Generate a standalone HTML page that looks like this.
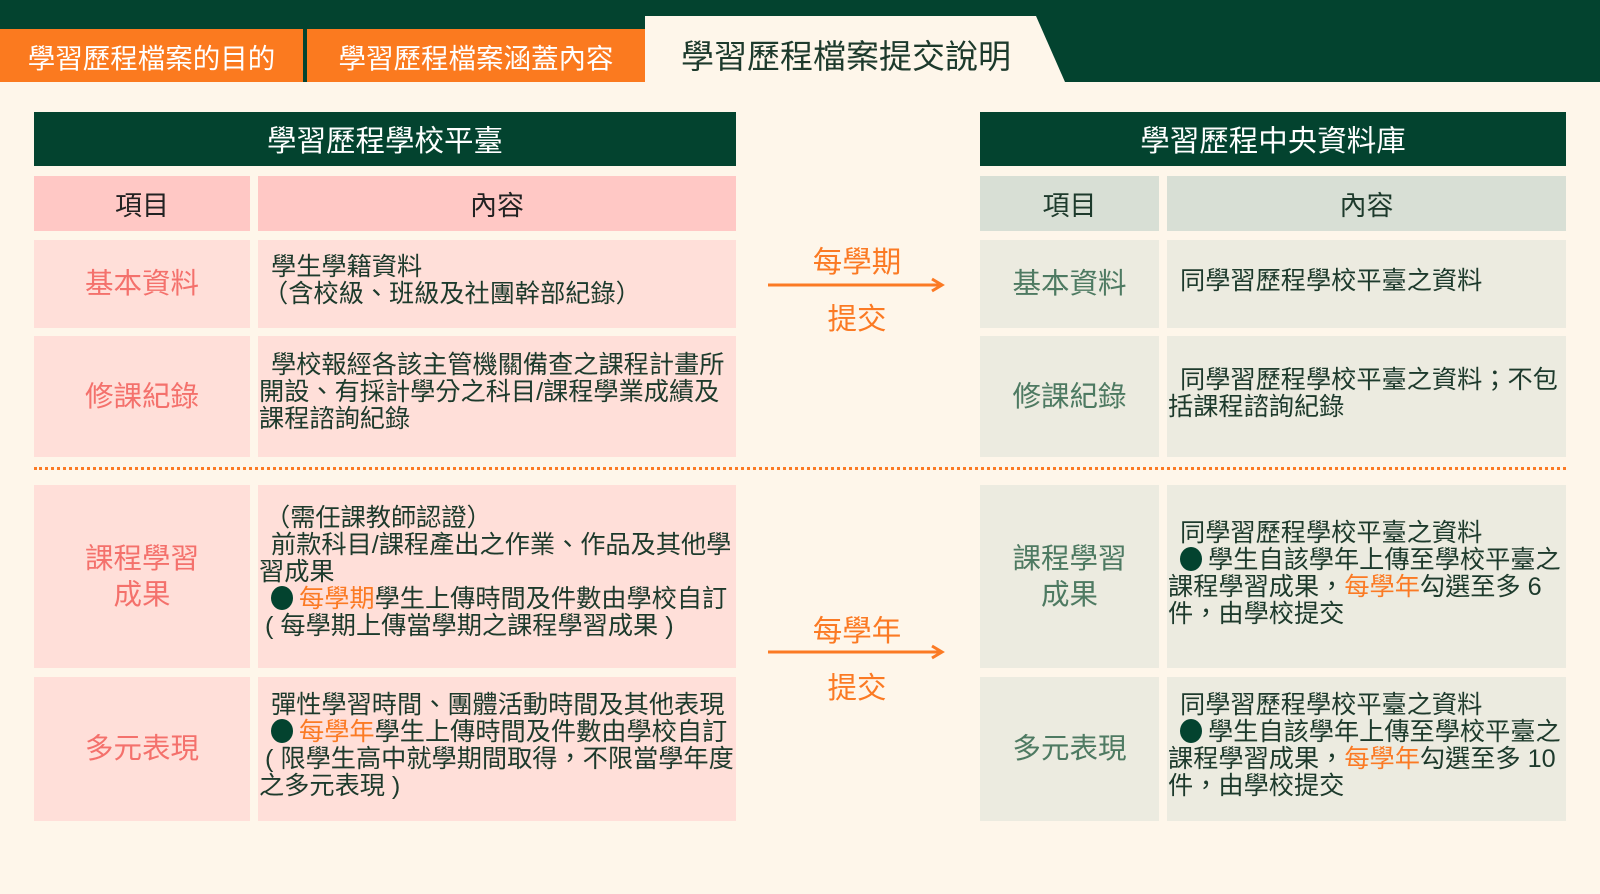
<!DOCTYPE html>
<html><head><meta charset="utf-8"><style>
*{margin:0;padding:0;box-sizing:border-box}
body{width:1600px;height:894px;background:#fef6ea;position:relative;overflow:hidden;font-family:"Liberation Sans","Noto Sans CJK TC",sans-serif}
.a{position:absolute}
.c{display:flex;align-items:center;justify-content:center;text-align:center}
.hd{background:#03432f;color:#fff;font-size:29.5px}
.ph{background:#ffc8c5;color:#222;font-size:27px}
.gh{background:#d8dfd5;color:#1d3a2c;font-size:27px}
.pc{background:#ffdfd9}
.gc{background:#ecebe0}
.pl{color:#f4716c;font-size:28.5px;line-height:36px}
.gl{color:#4e7a62;font-size:28.5px;line-height:36px}
.t{font-size:25.2px;line-height:27px;color:#1d3a2c;white-space:nowrap}
.o{color:#fb7a24}
.b{display:inline-block;width:22px;height:24px;border-radius:50%;background:#03432f;vertical-align:-3px;margin:0 6px 0 12px}
.ar{font-size:29.5px;color:#fb7a24}
</style></head><body>
<div class="a" style="left:0;top:0;width:1600px;height:82px;background:#03432f"></div>
<div class="a c" style="left:0;top:29px;width:303px;height:53px;background:#fb7a1f;color:#fff;font-size:27.5px">學習歷程檔案的目的</div>
<div class="a c" style="left:307px;top:29px;width:338px;height:53px;background:#fb7a1f;color:#fff;font-size:27.5px">學習歷程檔案涵蓋內容</div>
<svg class="a" style="left:645px;top:16px" width="420" height="66"><polygon points="0,0 391,0 420,66 0,66" fill="#fef6ea"/></svg>
<div class="a" style="left:681px;top:30px;font-size:33px;color:#1d3a2c">學習歷程檔案提交說明</div>

<div class="a c hd" style="left:34px;top:112px;width:702px;height:54px">學習歷程學校平臺</div>
<div class="a c hd" style="left:980px;top:112px;width:586px;height:54px">學習歷程中央資料庫</div>

<div class="a c ph" style="left:34px;top:176px;width:216px;height:55px">項目</div>
<div class="a c ph" style="left:258px;top:176px;width:478px;height:55px">內容</div>
<div class="a c gh" style="left:980px;top:176px;width:179px;height:55px">項目</div>
<div class="a c gh" style="left:1167px;top:176px;width:399px;height:55px">內容</div>

<div class="a c pc pl" style="left:34px;top:240px;width:216px;height:88px">基本資料</div>
<div class="a pc" style="left:258px;top:240px;width:478px;height:88px"></div>
<div class="a c pc pl" style="left:34px;top:336px;width:216px;height:121px">修課紀錄</div>
<div class="a pc" style="left:258px;top:336px;width:478px;height:121px"></div>
<div class="a c pc pl" style="left:34px;top:485px;width:216px;height:183px">課程學習<br>成果</div>
<div class="a pc" style="left:258px;top:485px;width:478px;height:183px"></div>
<div class="a c pc pl" style="left:34px;top:677px;width:216px;height:144px">多元表現</div>
<div class="a pc" style="left:258px;top:677px;width:478px;height:144px"></div>

<div class="a c gc gl" style="left:980px;top:240px;width:179px;height:88px">基本資料</div>
<div class="a gc" style="left:1167px;top:240px;width:399px;height:88px"></div>
<div class="a c gc gl" style="left:980px;top:336px;width:179px;height:121px">修課紀錄</div>
<div class="a gc" style="left:1167px;top:336px;width:399px;height:121px"></div>
<div class="a c gc gl" style="left:980px;top:485px;width:179px;height:183px">課程學習<br>成果</div>
<div class="a gc" style="left:1167px;top:485px;width:399px;height:183px"></div>
<div class="a c gc gl" style="left:980px;top:677px;width:179px;height:144px">多元表現</div>
<div class="a gc" style="left:1167px;top:677px;width:399px;height:144px"></div>

<div class="a" style="left:34px;top:467px;width:1532px;border-top:3px dotted #fb7a24"></div>

<div class="a t" style="left:259px;top:254px"><span style="margin-left:12px">學生學籍資料</span><br><span style="margin-left:4px">（含校級、班級及社團幹部紀錄）</span></div>
<div class="a t" style="left:259px;top:352px"><span style="margin-left:12px">學校報經各該主管機關備查之課程計畫所</span><br>開設、有採計學分之科目/課程學業成績及<br>課程諮詢紀錄</div>
<div class="a t" style="left:259px;top:505px"><span style="margin-left:6px">（需任課教師認證）</span><br><span style="margin-left:12px">前款科目/課程產出之作業、作品及其他學</span><br>習成果<br><span class="b"></span><span class="o">每學期</span>學生上傳時間及件數由學校自訂<br><span style="margin-left:6px">( 每學期上傳當學期之課程學習成果 )</span></div>
<div class="a t" style="left:259px;top:692px"><span style="margin-left:12px">彈性學習時間、團體活動時間及其他表現</span><br><span class="b"></span><span class="o">每學年</span>學生上傳時間及件數由學校自訂<br><span style="margin-left:6px">( 限學生高中就學期間取得，不限當學年度</span><br>之多元表現 )</div>

<div class="a t" style="left:1168px;top:268px"><span style="margin-left:12px">同學習歷程學校平臺之資料</span></div>
<div class="a t" style="left:1168px;top:367px"><span style="margin-left:12px">同學習歷程學校平臺之資料；不包</span><br>括課程諮詢紀錄</div>
<div class="a t" style="left:1168px;top:520px"><span style="margin-left:12px">同學習歷程學校平臺之資料</span><br><span class="b"></span>學生自該學年上傳至學校平臺之<br>課程學習成果，<span class="o">每學年</span>勾選至多 6<br>件，由學校提交</div>
<div class="a t" style="left:1168px;top:692px"><span style="margin-left:12px">同學習歷程學校平臺之資料</span><br><span class="b"></span>學生自該學年上傳至學校平臺之<br>課程學習成果，<span class="o">每學年</span>勾選至多 10<br>件，由學校提交</div>

<div class="a c ar" style="left:768px;top:242px;width:178px;height:36px">每學期</div>
<svg class="a" style="left:768px;top:277px" width="180" height="16"><line x1="0" y1="8" x2="172" y2="8" stroke="#fb7a24" stroke-width="3"/><polyline points="164,2 174,8 164,14" fill="none" stroke="#fb7a24" stroke-width="3"/></svg>
<div class="a c ar" style="left:768px;top:299px;width:178px;height:36px">提交</div>
<div class="a c ar" style="left:768px;top:611px;width:178px;height:36px">每學年</div>
<svg class="a" style="left:768px;top:644px" width="180" height="16"><line x1="0" y1="8" x2="172" y2="8" stroke="#fb7a24" stroke-width="3"/><polyline points="164,2 174,8 164,14" fill="none" stroke="#fb7a24" stroke-width="3"/></svg>
<div class="a c ar" style="left:768px;top:668px;width:178px;height:36px">提交</div>
</body></html>
